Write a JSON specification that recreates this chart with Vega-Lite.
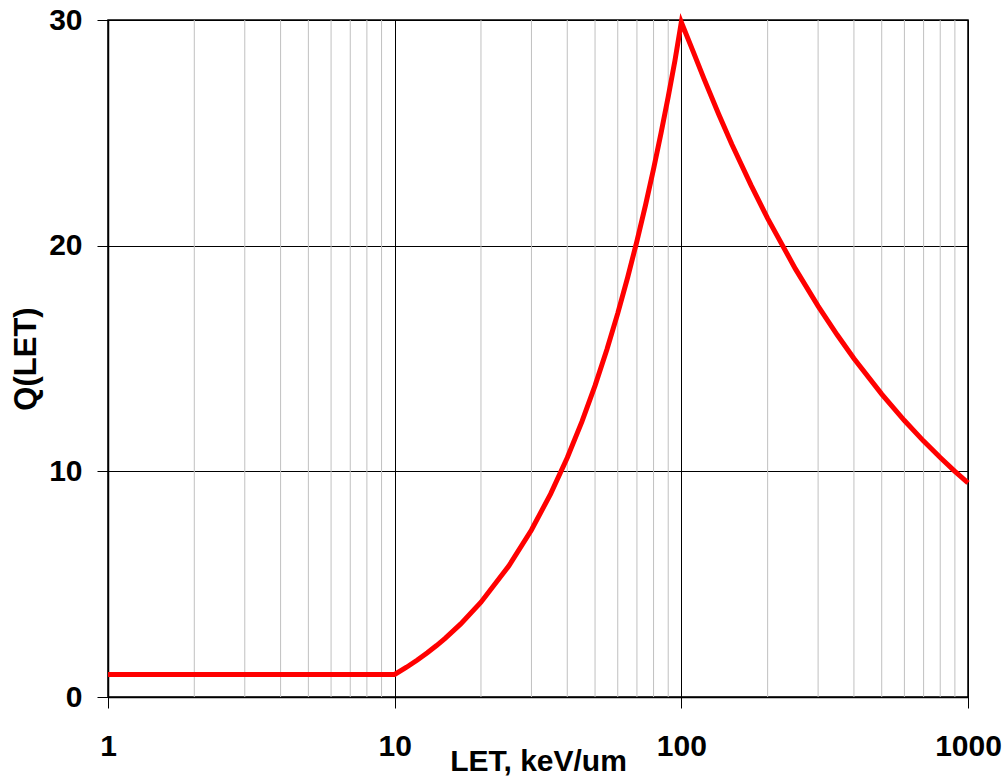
{
  "$schema": "https://vega.github.io/schema/vega-lite/v6.json",
  "width": 860,
  "height": 677,
  "autosize": {"type": "none"},
  "padding": {"left": 108, "top": 20, "right": 40, "bottom": 81},
  "config": {
    "view": {"stroke": "black", "strokeWidth": 1.5},
    "font": "Liberation Sans"
  },
  "datasets": {
    "minor": [
      {"L": 2}, {"L": 3}, {"L": 4}, {"L": 5}, {"L": 6}, {"L": 7}, {"L": 8}, {"L": 9},
      {"L": 20}, {"L": 30}, {"L": 40}, {"L": 50}, {"L": 60}, {"L": 70}, {"L": 80}, {"L": 90},
      {"L": 200}, {"L": 300}, {"L": 400}, {"L": 500}, {"L": 600}, {"L": 700}, {"L": 800}, {"L": 900}
    ],
    "q": [
      {"L": 1, "Q": 1},
      {"L": 10, "Q": 1},
      {"L": 11, "Q": 1.32},
      {"L": 12, "Q": 1.64},
      {"L": 13, "Q": 1.96},
      {"L": 14, "Q": 2.28},
      {"L": 15, "Q": 2.6},
      {"L": 17, "Q": 3.24},
      {"L": 20, "Q": 4.2},
      {"L": 25, "Q": 5.8},
      {"L": 30, "Q": 7.4},
      {"L": 35, "Q": 9.0},
      {"L": 40, "Q": 10.6},
      {"L": 45, "Q": 12.2},
      {"L": 50, "Q": 13.8},
      {"L": 55, "Q": 15.4},
      {"L": 60, "Q": 17.0},
      {"L": 65, "Q": 18.6},
      {"L": 70, "Q": 20.2},
      {"L": 75, "Q": 21.8},
      {"L": 80, "Q": 23.4},
      {"L": 85, "Q": 25.0},
      {"L": 90, "Q": 26.6},
      {"L": 95, "Q": 28.2},
      {"L": 100, "Q": 29.9},
      {"L": 110, "Q": 28.6},
      {"L": 120, "Q": 27.39},
      {"L": 135, "Q": 25.82},
      {"L": 150, "Q": 24.49},
      {"L": 175, "Q": 22.68},
      {"L": 200, "Q": 21.21},
      {"L": 250, "Q": 18.97},
      {"L": 300, "Q": 17.32},
      {"L": 350, "Q": 16.04},
      {"L": 400, "Q": 15.0},
      {"L": 500, "Q": 13.42},
      {"L": 600, "Q": 12.25},
      {"L": 700, "Q": 11.34},
      {"L": 800, "Q": 10.61},
      {"L": 900, "Q": 10.0},
      {"L": 1000, "Q": 9.49}
    ]
  },
  "encoding": {
    "x": {
      "field": "L",
      "type": "quantitative",
      "scale": {"type": "log", "domain": [1, 1000]},
      "axis": {
        "values": [1, 10, 100, 1000],
        "format": "d",
        "grid": true,
        "gridColor": "black",
        "gridOpacity": 1,
        "gridWidth": 1,
        "domainColor": "black",
        "domainWidth": 1.5,
        "tickColor": "black",
        "tickSize": 11,
        "tickWidth": 1,
        "labelFontSize": 30,
        "labelFontWeight": "bold",
        "labelColor": "black",
        "labelPadding": 23,
        "labelFlush": false,
        "labelOverlap": false,
        "title": "LET, keV/um",
        "titleFontSize": 30,
        "titleFontWeight": "bold",
        "titleColor": "black",
        "titleBaseline": "alphabetic",
        "titleY": 73
      }
    }
  },
  "layer": [
    {
      "data": {"name": "minor"},
      "mark": {"type": "rule", "color": "#c0c0c0", "strokeWidth": 1}
    },
    {
      "data": {"name": "q"},
      "mark": {"type": "line", "color": "#ff0000", "strokeWidth": 5},
      "encoding": {
        "y": {
          "field": "Q",
          "type": "quantitative",
          "scale": {"domain": [0, 30], "nice": false, "zero": true},
          "axis": {
            "values": [0, 10, 20, 30],
            "grid": true,
            "gridColor": "black",
            "gridOpacity": 1,
            "gridWidth": 1,
            "domainColor": "black",
            "domainWidth": 1.5,
            "tickColor": "black",
            "tickSize": 11,
            "tickWidth": 1,
            "labelFontSize": 30,
            "labelFontWeight": "bold",
            "labelColor": "black",
            "labelPadding": 15,
            "labelFlush": false,
            "labelOverlap": false,
            "title": "Q(LET)",
            "titleFontSize": 31,
            "titleFontWeight": "bold",
            "titleColor": "black",
            "titleBaseline": "alphabetic",
            "titleX": -73
          }
        }
      }
    }
  ]
}
